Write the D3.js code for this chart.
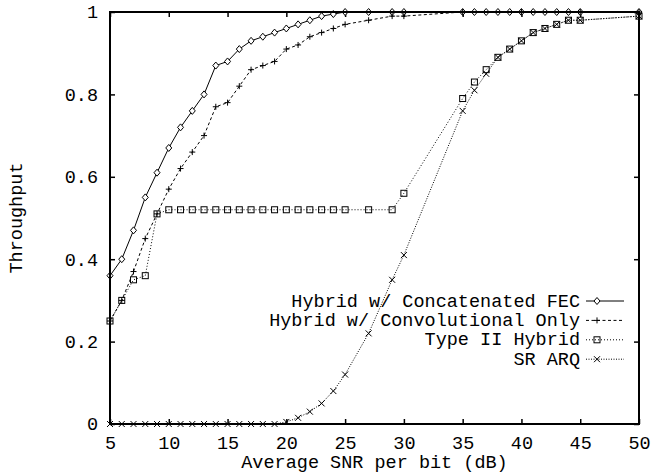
<!DOCTYPE html>
<html>
<head>
<meta charset="utf-8">
<script src="https://cdn.jsdelivr.net/npm/d3@7"></script>
<style>
  body { margin: 0; background: #fff; }
  #content { width: 669px; height: 473px; }
  text { font-family: "Liberation Mono", "DejaVu Sans Mono", monospace; fill: #000; }
</style>
</head>
<body>
<div id="content"></div>
<script>
// SNR values (dB) and throughput for each scheme
var fecX  = [5,6,7,8,9,10,11,12,13,14,15,16,17,18,19,20,21,22,23,24,25,27,29,30,35,36,37,38,39,40,41,42,43,44,45,50];
var fecY  = [0.36,0.40,0.47,0.55,0.61,0.67,0.72,0.76,0.80,0.87,0.88,0.91,0.93,0.94,0.95,0.96,0.97,0.98,0.99,0.995,1,1,1,1,1,1,1,1,1,1,1,1,1,1,1,1];

var convX = [5,6,7,8,9,10,11,12,13,14,15,16,17,18,19,20,21,22,23,24,25,27,29,30,35,40,45,50];
var convY = [0.25,0.30,0.37,0.45,0.51,0.57,0.62,0.66,0.70,0.77,0.78,0.82,0.86,0.87,0.88,0.91,0.92,0.94,0.95,0.96,0.97,0.98,0.99,0.99,1,1,1,1];

var typeX = [5,6,7,8,9,10,11,12,13,14,15,16,17,18,19,20,21,22,23,24,25,27,29,30,35,36,37,38,39,40,41,42,43,44,45,50];
var typeY = [0.25,0.30,0.35,0.36,0.51,0.52,0.52,0.52,0.52,0.52,0.52,0.52,0.52,0.52,0.52,0.52,0.52,0.52,0.52,0.52,0.52,0.52,0.52,0.56,0.79,0.83,0.86,0.89,0.91,0.93,0.95,0.96,0.97,0.98,0.98,0.99];

var arqX  = [5,6,7,8,9,10,11,12,13,14,15,16,17,18,19,20,21,22,23,24,25,27,29,30,35,36,37,38,39,40,41,42,43,44,45,50];
var arqY  = [0,0,0,0,0,0,0,0,0,0,0,0,0,0,0,0.005,0.015,0.03,0.05,0.08,0.12,0.22,0.35,0.41,0.76,0.81,0.85,0.89,0.91,0.93,0.95,0.96,0.97,0.98,0.98,0.99];

var seriesNames = ["Hybrid w/ Concatenated FEC", "Hybrid w/ Convolutional Only", "Type II Hybrid", "SR ARQ"];
var xTicks = [5,10,15,20,25,30,35,40,45,50];
var yTicks = [0,0.2,0.4,0.6,0.8,1];
var xLabel = "Average SNR per bit (dB)";
var yLabel = "Throughput";

(function(d3) {
    var width = 669, height = 473;
    var margin = {top: 12, right: 30, bottom: 49, left: 110};
    var fontSize = "18.5px";

    var svg = d3.select("#content").append("svg")
        .attr("viewBox", [0, 0, width, height])
        .attr("width", width).attr("height", height);

    var x = d3.scaleLinear().domain([5, 50]).range([margin.left, width - margin.right]);
    var y = d3.scaleLinear().domain([0, 1]).range([height - margin.bottom, margin.top]);

    function styleAxis(g) {
        g.select(".domain").remove();
        g.selectAll(".tick line").attr("stroke", "#000").attr("stroke-width", 1.5);
        g.selectAll(".tick text").style("font-size", fontSize).attr("fill", "#000");
    }

    svg.append("g")
        .attr("transform", "translate(0," + (height - margin.bottom) + ")")
        .call(d3.axisBottom(x).tickValues(xTicks).tickSize(-5).tickPadding(12).tickFormat(d3.format("d")))
        .call(styleAxis);
    svg.append("g")
        .attr("transform", "translate(0," + margin.top + ")")
        .call(d3.axisTop(x).tickValues(xTicks).tickSize(-5).tickFormat(""))
        .call(styleAxis);
    svg.append("g")
        .attr("transform", "translate(" + margin.left + ",0)")
        .call(d3.axisLeft(y).tickValues(yTicks).tickSize(-5).tickPadding(12).tickFormat(function(d) { return String(d); }))
        .call(styleAxis);
    svg.append("g")
        .attr("transform", "translate(" + (width - margin.right) + ",0)")
        .call(d3.axisRight(y).tickValues(yTicks).tickSize(-5).tickFormat(""))
        .call(styleAxis);

    svg.selectAll(".tick text").attr("font-family", "Liberation Mono");

    // axis titles
    svg.append("text")
        .attr("x", (margin.left + width - margin.right) / 2)
        .attr("y", 468)
        .attr("text-anchor", "middle")
        .style("font-size", fontSize)
        .text(xLabel);
    svg.append("text")
        .attr("transform", "translate(22," + ((margin.top + height - margin.bottom) / 2) + ") rotate(-90)")
        .attr("text-anchor", "middle")
        .style("font-size", fontSize)
        .text(yLabel);

    var series = [
        {name: seriesNames[0], xs: fecX,  ys: fecY,  dash: null,    marker: "diamond"},
        {name: seriesNames[1], xs: convX, ys: convY, dash: "3,2.5", marker: "plus"},
        {name: seriesNames[2], xs: typeX, ys: typeY, dash: "1,2",   marker: "square"},
        {name: seriesNames[3], xs: arqX,  ys: arqY,  dash: "1,1.5", marker: "cross"}
    ];

    function drawMarker(g, type, cx, cy) {
        var s = 3;
        if (type === "diamond") {
            g.append("path")
                .attr("d", "M" + cx + "," + (cy - s - 0.5) + "L" + (cx + s) + "," + cy + "L" + cx + "," + (cy + s + 0.5) + "L" + (cx - s) + "," + cy + "Z")
                .attr("fill", "#fff").attr("stroke", "#000").attr("stroke-width", 1);
        } else if (type === "plus") {
            g.append("path")
                .attr("d", "M" + (cx - s) + "," + cy + "H" + (cx + s) + "M" + cx + "," + (cy - s) + "V" + (cy + s))
                .attr("stroke", "#000").attr("stroke-width", 1);
        } else if (type === "square") {
            g.append("rect")
                .attr("x", cx - s).attr("y", cy - s).attr("width", 2 * s).attr("height", 2 * s)
                .attr("fill", "none").attr("stroke", "#000").attr("stroke-width", 1);
        } else {
            g.append("path")
                .attr("d", "M" + (cx - s) + "," + (cy - s) + "L" + (cx + s) + "," + (cy + s) + "M" + (cx + s) + "," + (cy - s) + "L" + (cx - s) + "," + (cy + s))
                .attr("stroke", "#000").attr("stroke-width", 1);
        }
    }

    var line = d3.line()
        .x(function(d) { return x(d[0]); })
        .y(function(d) { return y(d[1]); });

    series.forEach(function(s) {
        var pts = s.xs.map(function(v, i) { return [v, s.ys[i]]; });
        svg.append("path")
            .datum(pts)
            .attr("fill", "none")
            .attr("stroke", "#000")
            .attr("stroke-width", 1)
            .attr("stroke-dasharray", s.dash)
            .attr("d", line);
        var g = svg.append("g");
        pts.forEach(function(p) { drawMarker(g, s.marker, x(p[0]), y(p[1])); });
    });

    // frame
    svg.append("rect")
        .attr("x", margin.left).attr("y", margin.top)
        .attr("width", width - margin.left - margin.right)
        .attr("height", height - margin.top - margin.bottom)
        .attr("fill", "none").attr("stroke", "#000").attr("stroke-width", 2);

    // legend
    var legendBase = [306.5, 325.9, 345.3, 364.7];
    series.forEach(function(s, i) {
        var cy = legendBase[i] - 5.5;
        svg.append("text")
            .attr("x", 580).attr("y", legendBase[i])
            .attr("text-anchor", "end")
            .style("font-size", fontSize)
            .text(s.name);
        svg.append("line")
            .attr("x1", 586).attr("x2", 624).attr("y1", cy).attr("y2", cy)
            .attr("stroke", "#000").attr("stroke-width", 1)
            .attr("stroke-dasharray", s.dash);
        drawMarker(svg, s.marker, 597, cy);
    });
})(d3);
</script>
</body>
</html>
